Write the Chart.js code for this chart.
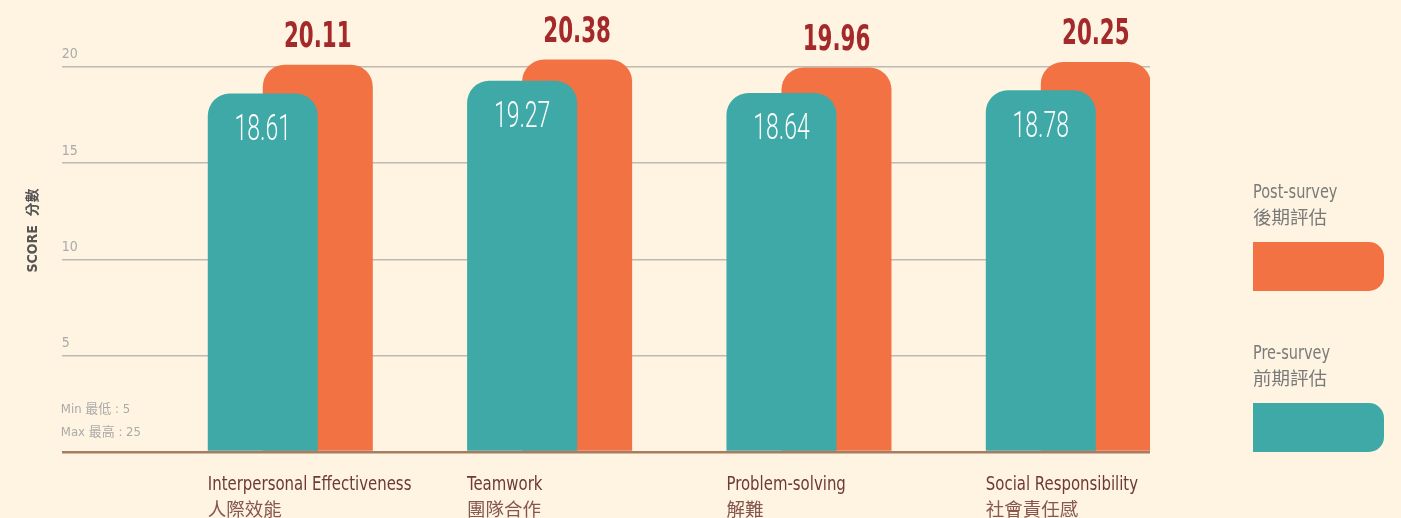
<!DOCTYPE html>
<html lang="zh-Hant">
<head>
<meta charset="UTF-8">
<title>Pre-survey / Post-survey scores</title>
<script src="https://cdn.jsdelivr.net/npm/chart.js"></script>
<style>
  html, body { margin: 0; padding: 0; background: #fef4e1; }
  #wrap { position: relative; width: 1401px; height: 518px; }
</style>
</head>
<body>
<div id="wrap"><canvas id="scoreChart"></canvas></div>
<script>
// chart values
const categories = ['Interpersonal Effectiveness', 'Teamwork', 'Problem-solving', 'Social Responsibility'];
const categoriesZh = ['人際效能', '團隊合作', '解難', '社會責任感'];
const preSurvey = [18.61, 19.27, 18.64, 18.78];
const postSurvey = [20.11, 20.38, 19.96, 20.25];
const yTicks = [0, 5, 10, 15, 20];
const preName = ['Pre-survey', '前期評估'];
const postName = ['Post-survey', '後期評估'];
const rangeNote = ['Min 最低 : 5', 'Max 最高 : 25'];
const axisTitle = 'SCORE  分數';

const FONT = '"Liberation Sans Narrow", "DejaVu Sans Condensed", "Noto Sans CJK TC", sans-serif';
const THIN = 'Roboto, "Noto Sans", sans-serif';
const TEAL = '#3ea9a6';
const ORANGE = '#f37243';

Chart.defaults.font.family = FONT;

// the original uses a very narrow face, so squeeze latin text a bit
function squeezed(ctx, str, x, y, sx) {
    ctx.save();
    ctx.translate(x, y);
    ctx.scale(sx, 1);
    ctx.fillText(str, 0, 0);
    ctx.restore();
}

// value labels, category labels, note and legend
const decorations = {
    id: 'decorations',
    afterDatasetsDraw(chart) {
        const ctx = chart.ctx;
        const area = chart.chartArea;
        const pre = chart.getDatasetMeta(0).data;
        const post = chart.getDatasetMeta(1).data;
        ctx.save();
        pre.forEach((bar, i) => {
            const p = post[i];
            ctx.textAlign = 'center';
            ctx.textBaseline = 'middle';
            ctx.fillStyle = '#ffffff';
            ctx.font = '300 37px ' + THIN;
            squeezed(ctx, preSurvey[i].toFixed(2), bar.x, bar.y + 37, 0.62);
            ctx.fillStyle = '#a3292b';
            ctx.font = 'bold 36px ' + FONT;
            squeezed(ctx, postSurvey[i].toFixed(2), p.x, p.y - 27, 0.66);

            const left = bar.x - bar.width / 2;
            ctx.textAlign = 'left';
            ctx.fillStyle = '#6e3a31';
            ctx.font = '20px ' + FONT;
            squeezed(ctx, categories[i], left, area.bottom + 33, 0.83);
            ctx.fillStyle = '#86574c';
            ctx.font = '18.5px ' + FONT;
            ctx.fillText(categoriesZh[i], left, area.bottom + 59);
        });

        // min / max note
        ctx.textAlign = 'left';
        ctx.fillStyle = '#aaaaaa';
        ctx.font = '13px ' + FONT;
        ctx.fillText(rangeNote[0], area.left - 1, area.bottom - 42);
        ctx.fillText(rangeNote[1], area.left - 1, area.bottom - 19);

        // legend on the right
        const lx = area.right + 103;
        const blocks = [
            { name: postName, color: chart.data.datasets[1].backgroundColor, top: area.bottom - 259 },
            { name: preName, color: chart.data.datasets[0].backgroundColor, top: area.bottom - 98 }
        ];
        blocks.forEach(b => {
            ctx.fillStyle = '#7a7a7a';
            ctx.font = '19px ' + FONT;
            squeezed(ctx, b.name[0], lx, b.top, 0.85);
            ctx.font = '18.5px ' + FONT;
            ctx.fillText(b.name[1], lx, b.top + 26);
            ctx.fillStyle = b.color;
            ctx.beginPath();
            ctx.roundRect(lx, b.top + 49, 131, 49, [0, 15, 15, 0]);
            ctx.fill();
        });
        ctx.restore();
    }
};

new Chart(document.getElementById('scoreChart'), {
    type: 'bar',
    data: {
        datasets: [
            {
                label: preName.join(' '),
                data: preSurvey.map((v, i) => ({ x: i, y: v })),
                backgroundColor: TEAL
            },
            {
                label: postName.join(' '),
                data: postSurvey.map((v, i) => ({ x: i, y: v })),
                backgroundColor: ORANGE
            }
        ]
    },
    options: {
        responsive: true,
        maintainAspectRatio: false,
        animation: false,
        layout: { padding: { top: 9, right: 251, bottom: 66, left: 0 } },
        datasets: {
            bar: {
                categoryPercentage: 0.4242,
                barPercentage: 2,
                borderRadius: 22,
                borderWidth: 0
            }
        },
        plugins: {
            legend: { display: false },
            tooltip: { enabled: false }
        },
        scales: {
            x: {
                type: 'linear',
                display: false,
                offset: false,
                min: -0.881,
                max: 3.315,
                afterBuildTicks: s => { s.ticks = categories.map((c, i) => ({ value: i })); }
            },
            y: {
                min: 0,
                max: 23,
                afterBuildTicks: s => { s.ticks = yTicks.map(v => ({ value: v })); },
                border: { display: false },
                grid: {
                    drawTicks: false,
                    color: c => c.tick && c.tick.value === 0 ? '#a67c62' : '#bdbab4',
                    lineWidth: c => c.tick && c.tick.value === 0 ? 2.5 : 1.5
                },
                ticks: {
                    mirror: true,
                    padding: 0,
                    labelOffset: -12,
                    color: '#ababab',
                    font: { size: 14 },
                    callback: v => v === 0 ? '' : String(v)
                },
                title: {
                    display: true,
                    text: axisTitle,
                    color: '#555555',
                    font: { size: 14, weight: 'bold' },
                    padding: { top: 25, bottom: 20 }
                }
            }
        }
    },
    plugins: [decorations]
});
</script>
</body>
</html>
